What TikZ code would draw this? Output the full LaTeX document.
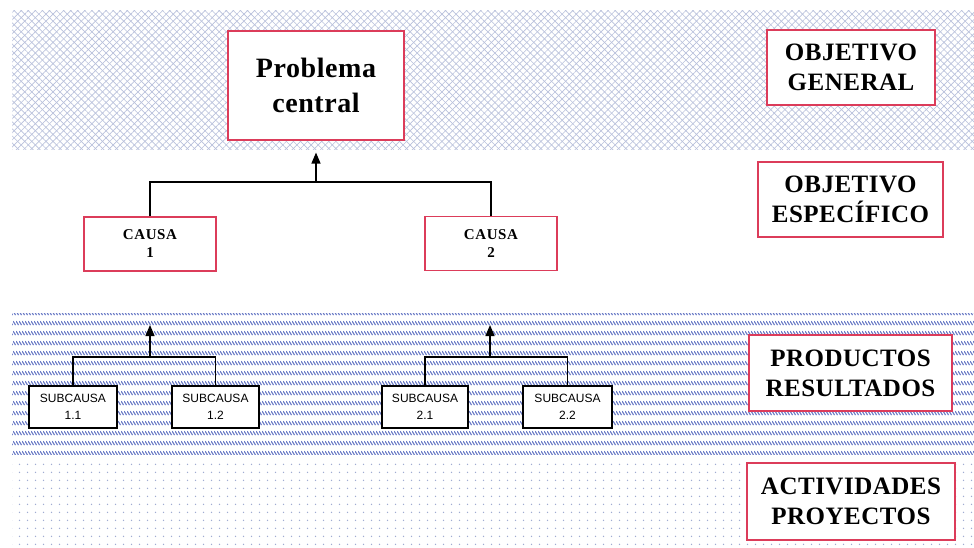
\documentclass[tikz,border=0pt]{standalone}
\usepackage{fontspec}
\setmainfont{Liberation Serif}
\newfontfamily\spacedserif[LetterSpace=4]{Liberation Serif}
\newfontfamily\tightserif[LetterSpace=2]{Liberation Serif}
\newfontfamily\arialf{Liberation Sans}
\usetikzlibrary{patterns.meta,arrows.meta}
\definecolor{boxred}{RGB}{220,60,90}
\definecolor{hatchc}{RGB}{185,193,220}
\definecolor{wavec}{RGB}{105,122,198}
\definecolor{dotc}{RGB}{160,172,210}
\pgfdeclarepattern{
  name=slashrows,
  type=uncolored,
  bottom left={\pgfpoint{0pt}{0pt}},
  top right={\pgfpoint{3.4pt}{10pt}},
  tile size={\pgfpoint{3.4pt}{10pt}},
  code={
    \pgfsetlinewidth{1.25pt}
    \pgfpathmoveto{\pgfpoint{0.2pt}{7.4pt}}
    \pgfpathlineto{\pgfpoint{3.0pt}{3.2pt}}
    \pgfusepath{stroke}
  }
}
\pgfdeclarepattern{
  name=dotgrid,
  type=uncolored,
  bottom left={\pgfpoint{0pt}{0pt}},
  top right={\pgfpoint{8pt}{8pt}},
  tile size={\pgfpoint{8pt}{8pt}},
  code={
    \pgfpathcircle{\pgfpoint{4pt}{4pt}}{0.85pt}
    \pgfusepath{fill}
  }
}
\tikzset{
  redbox/.style={draw=boxred, line width=1.1pt, fill=white, inner sep=0pt, align=center},
  blackbox/.style={draw=black, line width=1.1pt, fill=white, inner sep=0pt, align=center,
    font=\arialf\fontsize{12}{17}\selectfont},
  lbl/.style={redbox, font=\tightserif\fontsize{25}{30}\selectfont\bfseries},
  causabox/.style={redbox, minimum width=132pt, minimum height=54pt,
    font=\spacedserif\fontsize{15}{18}\selectfont\bfseries},
  subbox/.style={blackbox, minimum height=42pt},
  conn/.style={draw=black, line width=1.3pt},
  arr/.style={conn, -{Triangle[length=11pt,width=9pt]}}
}
\begin{document}
\begin{tikzpicture}[x=1pt,y=-1pt]
\useasboundingbox (0,0) rectangle (974,548);
\fill[white] (0,0) rectangle (974,548);
% bands
\fill[pattern={Lines[angle=45,distance=5pt,line width=0.65pt]},pattern color=hatchc] (12,11) rectangle (974,150);
\fill[pattern={Lines[angle=-45,distance=5pt,line width=0.65pt]},pattern color=hatchc] (12,11) rectangle (974,150);
\fill[pattern=slashrows, pattern color=wavec] (12,313) rectangle (974,454);
\fill[pattern=dotgrid, pattern color=dotc] (12,459) rectangle (974,548);
% main nodes
\node[redbox, minimum width=176pt, minimum height=109pt, font=\tightserif\fontsize{28}{35}\selectfont\bfseries] (pc) at (316,85.5) {Problema\\central};
\node[causabox] (c1) at (150,244) {CAUSA\\1};
\node[causabox] (c2) at (491,243.5) {CAUSA\\2};
\node[subbox, minimum width=88pt] (s11) at (73,407) {SUBCAUSA\\1.1};
\node[subbox, minimum width=87pt] (s12) at (215.5,407) {SUBCAUSA\\1.2};
\node[subbox, minimum width=86pt] (s21) at (425,407) {SUBCAUSA\\2.1};
\node[subbox, minimum width=89pt] (s22) at (567.5,407) {SUBCAUSA\\2.2};
% labels
\node[lbl, minimum width=168pt, minimum height=75pt] (og) at (851,67.5) {OBJETIVO\\GENERAL};
\node[lbl, minimum width=185pt, minimum height=75pt] (oe) at (850.5,199.5) {OBJETIVO\\ESPECÍFICO};
\node[lbl, minimum width=203pt, minimum height=76pt] (pr) at (850.5,373) {PRODUCTOS\\RESULTADOS};
\node[lbl, minimum width=208pt, minimum height=77pt] (ac) at (851,501.5) {ACTIVIDADES\\PROYECTOS};
% connectors
\coordinate (j0) at (316,182);
\draw[conn] (c1.north) |- (j0) -| (c2.north);
\draw[arr, shorten >=12pt] (j0) -- (pc.south);
\coordinate (j1) at (150,357);
\coordinate (t1) at (150,325);
\draw[conn] (s11.north) |- (j1) -| (s12.north);
\draw[arr] (j1) -- (t1);
\coordinate (j2) at (490,357);
\coordinate (t2) at (490,325);
\draw[conn] (s21.north) |- (j2) -| (s22.north);
\draw[arr] (j2) -- (t2);
\end{tikzpicture}
\end{document}
